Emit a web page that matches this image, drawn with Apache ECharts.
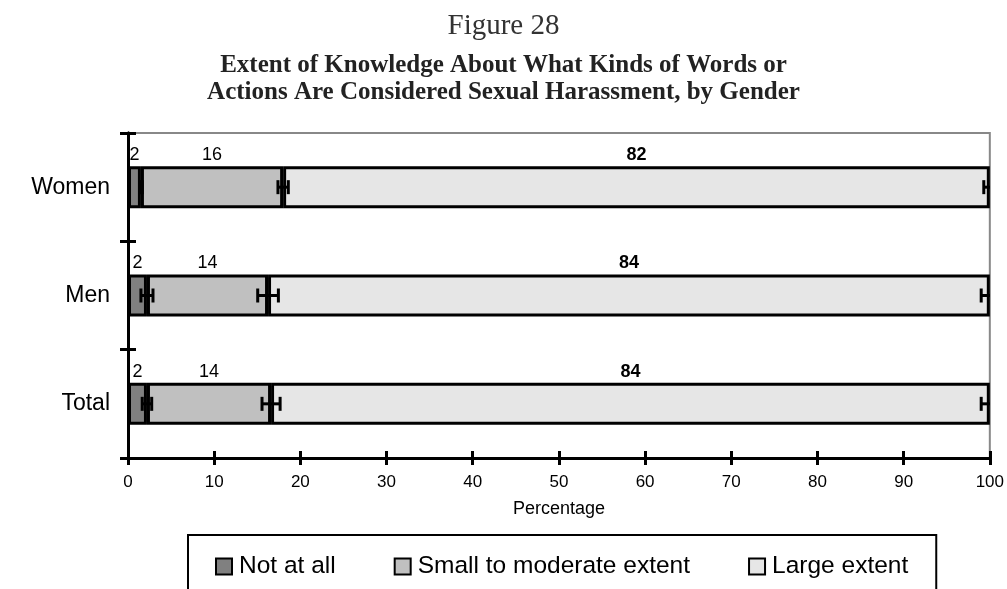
<!DOCTYPE html>
<html>
<head>
<meta charset="utf-8">
<script src="https://cdn.jsdelivr.net/npm/echarts@6/dist/echarts.min.js"></script>
<style>
  html, body { margin: 0; padding: 0; background: #fff; }
  #chart { width: 1007px; height: 589px; }
</style>
</head>
<body>
<div id="chart"></div>
<script>
// categories, bottom to top as ECharts draws them
var groups = ['Total', 'Men', 'Women'];
var seriesNames = ['Not at all', 'Small to moderate extent', 'Large extent'];

// percentages
var notAtAll = [2.2, 2.2, 1.5];
var smallModerate = [14.4, 14.05, 16.5];
var largeExtent = [83.4, 83.75, 82.0];

// printed labels above the bars
var notAtAllLabels = ['2', '2', '2'];
var smallModerateLabels = ['14', '14', '16'];
var largeExtentLabels = ['84', '84', '82'];

// error margins at the end of each segment
var notAtAllErr = [0.55, 0.7, 0.15];
var smallModerateErr = [1.05, 1.2, 0.6];
var largeExtentErr = [1.0, 1.0, 0.7];

var xTicks = [0, 10, 20, 30, 40, 50, 60, 70, 80, 90, 100];

var myChart = echarts.init(document.getElementById('chart'));

var sans = 'Liberation Sans';
var colors = ['#808080', '#c0c0c0', '#e6e6e6'];

// error bar points: [segment end, category index, margin]
var errData = [];
groups.forEach(function (g, i) {
    var e1 = notAtAll[i];
    var e2 = e1 + smallModerate[i];
    var e3 = e2 + largeExtent[i];
    errData.push([e1, i, notAtAllErr[i]]);
    errData.push([e2, i, smallModerateErr[i]]);
    errData.push([e3, i, largeExtentErr[i]]);
});

function barSeries(name, data, labels, color, bold) {
    return {
        name: name,
        type: 'bar',
        stack: 'all',
        barWidth: 42,
        data: data,
        itemStyle: { color: color, borderColor: '#000', borderWidth: 3 },
        label: {
            show: true,
            position: 'top',
            distance: 2,
            fontFamily: sans,
            fontSize: 18,
            fontWeight: bold ? 'bold' : 'normal',
            color: '#000',
            formatter: function (p) { return labels[p.dataIndex]; }
        },
        emphasis: { disabled: true }
    };
}

var yCommon = {
    type: 'category',
    data: groups,
    axisLine: { lineStyle: { color: '#000', width: 3 } },
    splitLine: { show: false }
};

var option = {
    animation: false,
    backgroundColor: '#fff',
    graphic: [
        {
            type: 'text', left: 'center', top: 12,
            style: { text: 'Figure 28', font: '29px "Liberation Serif"', fill: '#333' }
        },
        {
            type: 'text', left: 'center', top: 53,
            style: { text: 'Extent of Knowledge About What Kinds of Words or', font: 'bold 25px "Liberation Serif"', fill: '#222' }
        },
        {
            type: 'text', left: 'center', top: 80,
            style: { text: 'Actions Are Considered Sexual Harassment, by Gender', font: 'bold 25px "Liberation Serif"', fill: '#222' }
        }
    ],
    grid: {
        left: 128, right: 16, top: 133, bottom: 131,
        show: true, borderColor: '#888', borderWidth: 2, backgroundColor: 'transparent'
    },
    legend: {
        data: seriesNames,
        left: 188,
        top: 535,
        orient: 'horizontal',
        itemWidth: 16,
        itemHeight: 16,
        itemGap: 58,
        icon: 'rect',
        padding: [19, 28, 40, 27],
        borderColor: '#000',
        borderWidth: 2,
        itemStyle: { borderColor: '#000', borderWidth: 2 },
        textStyle: { fontFamily: sans, fontSize: 24.5, color: '#000', padding: [0, 0, 0, 2] }
    },
    xAxis: [{
        type: 'value',
        min: 0, max: 100, interval: 10,
        name: 'Percentage',
        nameLocation: 'middle',
        nameGap: 42,
        nameTextStyle: { fontFamily: sans, fontSize: 18, color: '#000' },
        axisLine: { show: true, lineStyle: { color: '#000', width: 3 } },
        axisTick: { show: true, length: 7, lineStyle: { color: '#000', width: 3 } },
        axisLabel: {
            fontFamily: sans, fontSize: 17, color: '#000', margin: 16,
            formatter: function (v) { return xTicks.indexOf(v) >= 0 ? String(v) : ''; }
        },
        splitLine: { show: false }
    }, {
        type: 'value',
        position: 'bottom',
        min: 0, max: 100, interval: 10,
        axisLine: { show: false },
        axisTick: { show: true, inside: true, length: 7, lineStyle: { color: '#000', width: 3 } },
        axisLabel: { show: false },
        splitLine: { show: false }
    }],
    yAxis: [
        Object.assign({}, yCommon, {
            axisTick: { show: true, length: 8, lineStyle: { color: '#000', width: 3 } },
            axisLabel: { fontFamily: sans, fontSize: 23, color: '#000', margin: 18 }
        }),
        Object.assign({}, yCommon, {
            position: 'left',
            axisTick: { show: true, inside: true, length: 8, lineStyle: { color: '#000', width: 3 } },
            axisLabel: { show: false }
        })
    ],
    series: [
        barSeries(seriesNames[0], notAtAll, notAtAllLabels, colors[0], false),
        barSeries(seriesNames[1], smallModerate, smallModerateLabels, colors[1], false),
        barSeries(seriesNames[2], largeExtent, largeExtentLabels, colors[2], true),
        {
            type: 'custom',
            name: 'error',
            clip: true,
            z: 5,
            data: errData,
            encode: { x: 0, y: 1 },
            renderItem: function (params, api) {
                var x = api.value(0), y = api.value(1), e = api.value(2);
                var lo = api.coord([x - e, y]);
                var hi = api.coord([x + e, y]);
                var h = 7;
                var st = { stroke: '#000', lineWidth: 3 };
                return {
                    type: 'group',
                    children: [
                        { type: 'line', shape: { x1: lo[0], y1: lo[1], x2: hi[0], y2: hi[1] }, style: st },
                        { type: 'line', shape: { x1: lo[0], y1: lo[1] - h, x2: lo[0], y2: lo[1] + h }, style: st },
                        { type: 'line', shape: { x1: hi[0], y1: hi[1] - h, x2: hi[0], y2: hi[1] + h }, style: st }
                    ]
                };
            }
        }
    ]
};

myChart.setOption(option);
</script>
</body>
</html>
